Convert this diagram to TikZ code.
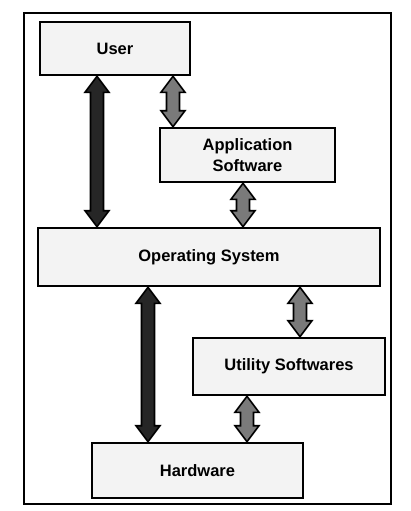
\documentclass[tikz,border=0pt]{standalone}
\usepackage{fontspec}
\setmainfont{Liberation Sans}
\usetikzlibrary{calc}
\definecolor{boxfill}{HTML}{F3F3F3}
\definecolor{darkarr}{HTML}{262626}
\definecolor{grayarr}{HTML}{7A7A7A}
\tikzset{
  box/.style={draw=black, line width=2.6pt, fill=boxfill, rectangle, align=center,
    font=\fontsize{16.5}{21}\selectfont\bfseries, inner sep=0pt},
  arr/.style={draw=black, line width=1.6pt, line join=miter},
}
% #1 fill colour, #2 top point, #3 bottom point
\newcommand\dblarrow[3]{%
  \filldraw[arr, fill=#1] (#2) -- ($(#2)+(12,16)$) -- ($(#2)+(6.5,16)$) -- ($(#3)+(6.5,-16)$)
   -- ($(#3)+(12,-16)$) -- (#3) -- ($(#3)+(-12,-16)$) -- ($(#3)+(-6.5,-16)$)
   -- ($(#2)+(-6.5,16)$) -- ($(#2)+(-12,16)$) -- cycle;}
\begin{document}
\begin{tikzpicture}[x=1pt,y=-1pt]
\useasboundingbox (0,0) rectangle (410,511);
\draw[line width=1.4pt] (24,13) rectangle (391,504);
\node[box, minimum width=150pt, minimum height=53pt] (user) at (115,48.5) {User};
\node[box, minimum width=175pt, minimum height=54pt] (app) at (247.5,155) {Application\\Software};
\node[box, minimum width=342pt, minimum height=58pt] (os) at (209,257) {Operating System};
\node[box, minimum width=192pt, minimum height=57pt] (util) at (289,366.5) {Utility Softwares};
\node[box, minimum width=211pt, minimum height=55pt] (hw) at (197.5,470.5) {Hardware};
\coordinate (xa) at (97,0);
\coordinate (xb) at (173,0);
\coordinate (xc) at (243,0);
\coordinate (xd) at (148,0);
\coordinate (xe) at (300,0);
\coordinate (xf) at (247,0);
\dblarrow{darkarr}{user.south -| xa}{os.north -| xa}
\dblarrow{grayarr}{user.south -| xb}{app.north -| xb}
\dblarrow{grayarr}{app.south -| xc}{os.north -| xc}
\dblarrow{darkarr}{os.south -| xd}{hw.north -| xd}
\dblarrow{grayarr}{os.south -| xe}{util.north -| xe}
\dblarrow{grayarr}{util.south -| xf}{hw.north -| xf}
\end{tikzpicture}
\end{document}
